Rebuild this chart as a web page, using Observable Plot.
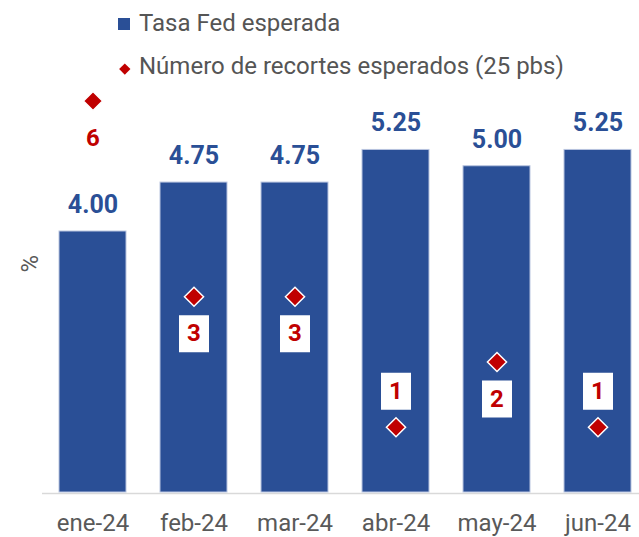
<!DOCTYPE html>
<html>
<head>
<meta charset="utf-8">
<script src="https://cdn.jsdelivr.net/npm/d3@7"></script>
<script src="https://cdn.jsdelivr.net/npm/@observablehq/plot@0.6"></script>
<style>
  html, body { margin: 0; padding: 0; background: #ffffff; }
  body { width: 639px; height: 537px; overflow: hidden; font-family: Roboto, "Noto Sans", sans-serif; }
  #legend { position: relative; width: 639px; height: 86px; }
  #legend .sw-bar { position: absolute; left: 118px; top: 18px; width: 12px; height: 12px; background: #2A4F96; }
  #legend .sw-dia { position: absolute; left: 121.2px; top: 64.5px; width: 7.6px; height: 7.6px; background: #C00000; transform: rotate(45deg); }
  #legend .lab { position: absolute; left: 139px; font-size: 24px; line-height: 28px; color: #555555; white-space: nowrap; }
  #chart svg { display: block; }
</style>
</head>
<body>
<div id="legend"></div>
<div id="chart"></div>
<script>
// ---- data ----
const months = ["ene-24", "feb-24", "mar-24", "abr-24", "may-24", "jun-24"];
const fedRate = [4.00, 4.75, 4.75, 5.25, 5.00, 5.25];
const expectedCuts = [6, 3, 3, 1, 2, 1];
const legendLabels = ["Tasa Fed esperada", "Número de recortes esperados (25 pbs)"];
const yLabel = "%";

// ---- build tables ----
const rows = months.map((m, i) => ({month: m, rate: fedRate[i], cuts: expectedCuts[i]}));

// ---- legend (HTML, above the SVG) ----
const legend = document.getElementById("legend");
legend.innerHTML = `
  <div class="sw-bar"></div>
  <div class="lab" style="top:9px">${legendLabels[0]}</div>
  <div class="sw-dia"></div>
  <div class="lab" style="top:52px">${legendLabels[1]}</div>`;

const BLUE = "#2A4F96";
const RED = "#C00000";
const boxSymbol = { draw(ctx) { ctx.rect(-15, -18.5, 30, 37); } };

const below = rows.filter(d => d.cuts > 1);
const above = rows.filter(d => d.cuts <= 1);

const chart = Plot.plot({
  width: 639,
  height: 451,
  marginLeft: 42,
  marginRight: 0,
  marginTop: 0,
  marginBottom: 45,
  style: { fontFamily: "Roboto, 'Noto Sans', sans-serif", background: "#ffffff", overflow: "visible" },
  x: { type: "band", domain: months, range: [58.7, 631], paddingInner: 0.334, paddingOuter: 0, label: null },
  y: { domain: [0, 6], range: [406, 14.5], axis: null },
  marks: [
    Plot.ruleY([0], { stroke: "#d9d9d9", strokeWidth: 1.5, dy: 1 }),
    Plot.barY(rows, { x: "month", y: "rate", fill: BLUE, stroke: "#b9c5e0", strokeWidth: 1 }),
    Plot.text(rows, { x: "month", y: "rate", text: d => d.rate.toFixed(2), dy: -26.5,
      fontSize: 25, fontWeight: "bold", fill: BLUE }),
    Plot.dot(rows, { x: "month", y: "cuts", symbol: "diamond2", r: 8.6, fill: RED, stroke: "white", strokeWidth: 1.5 }),
    Plot.dot(below, { x: "month", y: "cuts", symbol: boxSymbol, r: 5, fill: "white", stroke: "none", dy: 37 }),
    Plot.dot(above, { x: "month", y: "cuts", symbol: boxSymbol, r: 5, fill: "white", stroke: "none", dy: -36 }),
    Plot.text(below, { x: "month", y: "cuts", text: d => String(d.cuts), dy: 37,
      fontSize: 24, fontWeight: "bold", fill: RED }),
    Plot.text(above, { x: "month", y: "cuts", text: d => String(d.cuts), dy: -36,
      fontSize: 24, fontWeight: "bold", fill: RED }),
    Plot.axisX({ tickSize: 0, tickPadding: 21, fontSize: 24, color: "#595959", label: null }),
    Plot.text([yLabel], { frameAnchor: "top-left", rotate: -90, dx: -22, dy: 186, fontSize: 24, fill: "#595959" })
  ]
});
document.getElementById("chart").appendChild(chart);
</script>
</body>
</html>
